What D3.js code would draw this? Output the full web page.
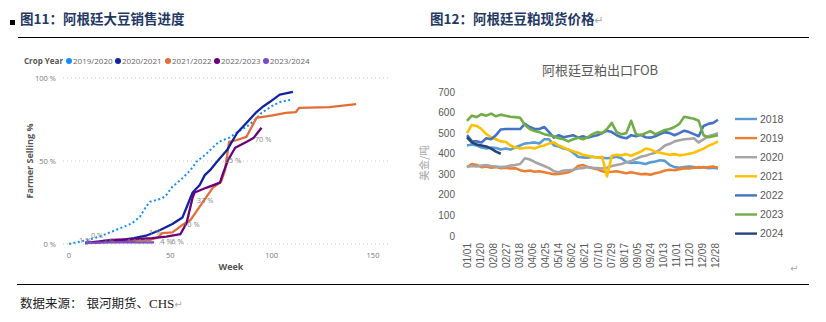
<!DOCTYPE html>
<html><head><meta charset="utf-8">
<script src="https://cdn.jsdelivr.net/npm/d3@7"></script>
<style>body{margin:0;background:#fff;overflow:hidden}</style>
</head><body>
<svg id="c" width="826" height="322"></svg>
<script>
// ---------- Left chart data (Argentina soybean farmer selling progress) ----------
const cropYears = ["2019/2020","2020/2021","2021/2022","2022/2023","2023/2024"];
const leftXTicks = [0, 50, 100, 150];
const leftYTicks = [0, 50, 100];
const weeks1920 = [0,9,15,21,27,31,35,38,40,46,48,51,55,60,63,68,74,79,84,88,92,95,100,104,110];
const sell1920  = [0,2.4,4.4,7.4,10.4,12.4,16.4,22.5,25.5,27.5,29.5,34.5,38.5,44.6,49.6,54.6,61.6,64,68,71,75,79,83,85.5,87];
const weeks2021 = [8,15,25,32,38,45,51,56,58,61,64.5,67,70,73,78,83,88,92.5,96,99,104,110.5];
const sell2021  = [0.6,1.2,2.4,3.5,5,8.4,12,16,22,31,35.5,41.5,45,49.5,56.6,67,73.5,79.5,83,85.5,90,91.6];
const weeks2122 = [10,20,30,40,44,46,51,56,60,64.5,71,75,77,79,82.5,87.5,92.5,100.5,107,112,113.5,128.5,141.7];
const sell2122  = [1,1.5,2,2.5,4,6.6,7,11.5,14.5,22.5,34,37.5,44.5,61.5,62.5,64.5,76,77.5,79,79.5,82,82.5,84.3];
const weeks2223 = [8,15,20,30,41,48,55,58,61,62,68,74.5,76,78.5,82,87.5,91,95];
const sell2223  = [0.6,1.5,2.4,2.8,3.6,4.5,6,12.6,28,31,34,37,42.5,50.6,58,61.5,63.8,70];
const weeks2324 = [8,15,20,25,30,35,42];
const sell2324  = [0.5,0.8,1,1,1.2,1,1];
const labelTexts = ["1 %","0 %","2 %","1 %","1 %","1 %","4 %","6 %","10 %","33 %","55 %","70 %"];
const labelWeeks = [4.9,10.8,16.7,28.6,34,39.5,45,50.5,56.2,63,76.8,91.6];
const labelPcts  = [0.6,3.6,0,0,0,5.2,0,0,10.2,24.7,48.8,61.4];

// ---------- Right chart data (Argentina soymeal export FOB, USD/t) ----------
const priceYears = ["2018","2019","2020","2021","2022","2023","2024"];
const dateTicks = ["01/01","01/20","02/08","02/27","03/18","04/06","04/25","05/14","06/02","06/21","07/10","07/29","08/17","09/05","09/24","10/13","11/01","11/20","12/09","12/28"];
const priceYTicks = [0,100,200,300,400,500,600,700];
const p2018 = [440,445,440,430,425,430,428,420,425,420,430,440,450,452,455,450,470,470,440,435,425,420,405,385,382,380,385,382,380,378,380,385,378,360,355,358,355,350,358,362,368,365,345,335,332,335,338,335,332,335,330,332,328];
const p2019 = [335,350,345,335,338,332,335,330,332,328,330,320,315,318,312,315,310,305,300,302,305,310,320,340,345,335,330,325,315,310,312,315,310,305,310,305,300,302,298,305,310,318,322,320,325,330,328,332,335,333,335,338,332];
const p2020 = [335,340,338,342,345,340,338,335,338,342,345,350,378,372,360,350,340,330,315,310,318,320,322,328,330,335,332,330,328,332,340,345,350,358,365,375,385,390,398,405,420,440,448,460,465,470,472,475,455,470,485,492,500];
const p2021 = [500,540,535,520,495,480,470,460,458,440,430,425,428,430,425,435,440,450,455,440,430,420,412,405,395,390,385,380,385,290,390,395,392,398,390,400,410,425,420,410,405,400,395,398,392,395,400,405,415,425,438,448,460];
const p2022 = [490,462,460,455,475,470,490,518,520,520,520,520,545,530,520,520,530,505,478,490,480,485,490,478,485,478,485,490,500,512,505,490,480,475,490,485,492,480,478,485,495,505,500,490,500,512,505,495,485,535,545,550,565];
const p2023 = [560,585,578,592,585,595,582,590,585,580,578,575,540,520,510,505,495,490,485,475,470,460,470,478,470,480,495,505,500,520,550,505,495,500,560,495,490,500,510,495,505,515,520,530,545,580,575,570,560,490,480,485,490];
const p2024 = [480,455,445,440,435,425,410,400];
const daysPerStep = 7;

// ---------- styles ----------
const cropColors = ["#118DFF","#12239E","#E66C37","#6B007B","#744EC2"];
const priceColors = ["#5B9BD5","#ED7D31","#A5A5A5","#FFC000","#4472C4","#70AD47","#264478"];
const svg = d3.select("#c");
const cjk = "'Noto Sans CJK SC', 'Noto Sans', sans-serif";
const pbi = "'Open Sans', 'Noto Sans', sans-serif";

// ---------- Page frame ----------
svg.append("rect").attr("x",10).attr("y",20).attr("width",5).attr("height",5).attr("fill","#000");
svg.append("text").attr("x",20).attr("y",24).attr("font-family",cjk).attr("font-weight","bold")
  .attr("font-size",13.5).attr("fill","#1F3864").text("图11：阿根廷大豆销售进度");
const t2 = svg.append("text").attr("x",430).attr("y",24).attr("font-family",cjk).attr("font-weight","bold")
  .attr("font-size",13.5).attr("fill","#1F3864").text("图12：阿根廷豆粕现货价格");
t2.append("tspan").attr("font-weight","normal").attr("fill","#aaa").attr("font-size",11).attr("font-family","DejaVu Sans").text("↵");
svg.append("line").attr("x1",18).attr("x2",809).attr("y1",37.5).attr("y2",37.5).attr("stroke","#000").attr("stroke-width",1.2);
svg.append("line").attr("x1",17).attr("x2",809).attr("y1",284.5).attr("y2",284.5).attr("stroke","#000").attr("stroke-width",1.2);
const ft = svg.append("text").attr("x",20).attr("y",308).attr("font-family",cjk).attr("font-size",12.5).attr("fill","#222").text("数据来源：");
ft.append("tspan").attr("dx",4).text("银河期货、");
ft.append("tspan").attr("font-family","'Liberation Serif', serif").attr("font-size",13).text("CHS");
ft.append("tspan").attr("fill","#aaa").attr("font-size",10).attr("font-family","DejaVu Sans").text("↵");
svg.append("text").attr("x",790).attr("y",272).attr("font-family","DejaVu Sans").attr("font-size",10).attr("fill","#aaa").text("↵");

// ---------- Left chart ----------
const xL = d3.scaleLinear().domain([0,150]).range([69,373]);
const yL = d3.scaleLinear().domain([0,100]).range([244,78]);
const gL = svg.append("g");
gL.selectAll(".gl").data(leftYTicks).join("line")
  .attr("x1",63).attr("x2",388).attr("y1",d=>yL(d)).attr("y2",d=>yL(d))
  .attr("stroke","#c8c8c8").attr("stroke-width",1).attr("stroke-dasharray","1,3");
gL.selectAll(".yt").data(leftYTicks).join("text")
  .attr("x",56).attr("y",d=>yL(d)+3).attr("text-anchor","end").attr("font-family",pbi)
  .attr("font-size",7.5).attr("fill","#777").text(d=>d+" %");
gL.selectAll(".xt").data(leftXTicks).join("text")
  .attr("x",d=>xL(d)).attr("y",258).attr("text-anchor","middle").attr("font-family",pbi)
  .attr("font-size",7.5).attr("fill","#777").text(d=>d);
gL.append("text").attr("x",231).attr("y",270).attr("text-anchor","middle").attr("font-family",pbi)
  .attr("font-weight","bold").attr("font-size",9).attr("fill","#555").text("Week");
gL.append("text").attr("transform","translate(33,161) rotate(-90)").attr("text-anchor","middle")
  .attr("font-family",pbi).attr("font-weight","bold").attr("font-size",9).attr("fill","#555").text("Farmer Selling %");
const lg = gL.append("g").attr("font-family",pbi).attr("font-size",8);
lg.append("text").attr("x",24).attr("y",64).attr("font-weight","bold").attr("fill","#555").text("Crop Year");
const legX = [69,118,168,217,266];
cropYears.forEach((c,i)=>{
  lg.append("circle").attr("cx",legX[i]).attr("cy",61).attr("r",3).attr("fill",cropColors[i]);
  lg.append("text").attr("x",legX[i]+4).attr("y",64).attr("fill","#666").text(c);
});
const lineL = d3.line().x(d=>xL(d[0])).y(d=>yL(d[1]));
const leftSeries = [
  [weeks1920,sell1920],[weeks2021,sell2021],[weeks2122,sell2122],[weeks2223,sell2223],[weeks2324,sell2324]
];
const drawOrder = [0,2,1,3,4];
drawOrder.forEach(i=>{
  const [w,s] = leftSeries[i];
  gL.append("path").datum(d3.zip(w,s)).attr("d",lineL).attr("fill","none")
    .attr("stroke",cropColors[i]).attr("stroke-width", i===0?2:2.3)
    .attr("stroke-dasharray", i===0?"2,2.5":null).attr("stroke-linejoin","round");
});
gL.selectAll(".lab").data(d3.zip(labelTexts,labelWeeks,labelPcts)).join("text")
  .attr("x",d=>xL(d[1])).attr("y",d=>yL(d[2])).attr("font-family",pbi).attr("font-size",7.5)
  .attr("fill","#888").text(d=>d[0]);

// ---------- Right chart ----------
const xR = d3.scaleLinear().domain([0,364]).range([467,718]);
const yR = d3.scaleLinear().domain([0,700]).range([236,92]);
const gR = svg.append("g");
gR.append("text").attr("x",600).attr("y",75).attr("text-anchor","middle").attr("font-family",cjk)
  .attr("font-size",13).attr("fill","#595959").text("阿根廷豆粕出口FOB");
gR.selectAll(".yt").data(priceYTicks).join("text")
  .attr("x",455).attr("y",d=>yR(d)+3.5).attr("text-anchor","end").attr("font-family","'Liberation Sans', sans-serif")
  .attr("font-size",10).attr("fill","#595959").text(d=>d);
gR.append("text").attr("transform","translate(428,163) rotate(-90)").attr("text-anchor","middle")
  .attr("font-family",cjk).attr("font-size",10.5).attr("fill","#aaa").text("美金/吨");
gR.selectAll(".xt").data(dateTicks).join("text")
  .attr("transform",(d,i)=>`translate(${xR(i*19)+3.5},243) rotate(-90)`).attr("text-anchor","end")
  .attr("font-family","'Liberation Sans', sans-serif").attr("font-size",10).attr("fill","#595959").text(d=>d);
const lineR = d3.line().x((d,i)=>xR(i*daysPerStep)).y(d=>yR(d));
const priceSeries = [p2018,p2019,p2020,p2021,p2022,p2023,p2024];
priceSeries.forEach((s,i)=>{
  gR.append("path").datum(s).attr("d",lineR).attr("fill","none").attr("stroke",priceColors[i])
    .attr("stroke-width",2.6).attr("stroke-linejoin","round");
});
priceYears.forEach((y,i)=>{
  const ly = 119 + i*19.1;
  gR.append("line").attr("x1",735).attr("x2",757).attr("y1",ly).attr("y2",ly).attr("stroke",priceColors[i]).attr("stroke-width",2.4);
  gR.append("text").attr("x",760).attr("y",ly+3.5).attr("font-family","'Liberation Sans', sans-serif")
    .attr("font-size",10.5).attr("fill","#595959").text(y);
});
</script>
</body></html>
